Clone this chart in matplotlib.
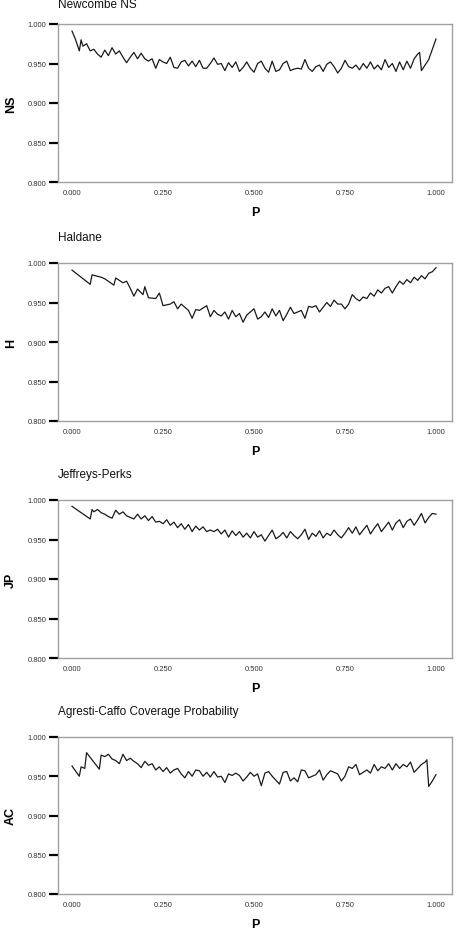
import matplotlib
matplotlib.use("Agg")
import matplotlib.pyplot as plt

plt.rcParams['font.family'] = ['Liberation Sans', 'DejaVu Sans']

# Newcombe NS
ns_p = [0.00, 0.01, 0.02, 0.025, 0.03, 0.04, 0.05, 0.06, 0.07, 0.08, 0.09, 0.10,
        0.11, 0.12, 0.13, 0.14, 0.15, 0.16, 0.17, 0.18, 0.19, 0.20, 0.21, 0.22,
        0.23, 0.24, 0.25, 0.26, 0.27, 0.28, 0.29, 0.30, 0.31, 0.32, 0.33, 0.34,
        0.35, 0.36, 0.37, 0.38, 0.39, 0.40, 0.41, 0.42, 0.43, 0.44, 0.45, 0.46,
        0.47, 0.48, 0.49, 0.50, 0.51, 0.52, 0.53, 0.54, 0.55, 0.56, 0.57, 0.58,
        0.59, 0.60, 0.61, 0.62, 0.63, 0.64, 0.65, 0.66, 0.67, 0.68, 0.69, 0.70,
        0.71, 0.72, 0.73, 0.74, 0.75, 0.76, 0.77, 0.78, 0.79, 0.80, 0.81, 0.82,
        0.83, 0.84, 0.85, 0.86, 0.87, 0.88, 0.89, 0.90, 0.91, 0.92, 0.93, 0.94,
        0.95, 0.955, 0.96, 0.97, 0.98, 0.99, 1.00]
ns_v = [0.991, 0.980, 0.966, 0.980, 0.972, 0.975, 0.966, 0.968, 0.962, 0.958, 0.967, 0.960,
        0.970, 0.962, 0.966, 0.958, 0.951, 0.958, 0.964, 0.956, 0.963, 0.956, 0.953, 0.956,
        0.944, 0.955, 0.952, 0.950, 0.958, 0.945, 0.944, 0.952, 0.954, 0.947, 0.953, 0.946,
        0.954, 0.944, 0.944, 0.950, 0.957, 0.949, 0.950, 0.941, 0.951, 0.945, 0.952, 0.940,
        0.945, 0.952, 0.944, 0.939, 0.950, 0.953, 0.944, 0.939, 0.953, 0.940, 0.942, 0.950,
        0.953, 0.941, 0.943, 0.944, 0.943, 0.955, 0.944, 0.940, 0.946, 0.948, 0.940, 0.949,
        0.952, 0.946, 0.938, 0.944, 0.954, 0.946, 0.944, 0.948, 0.942, 0.950, 0.944, 0.952,
        0.943, 0.948, 0.942, 0.955, 0.945, 0.950, 0.940, 0.952, 0.942, 0.953, 0.944, 0.956,
        0.962, 0.964, 0.941, 0.948, 0.955, 0.968, 0.981]

# Haldane
h_p = [0.00, 0.05, 0.055, 0.08, 0.09, 0.115, 0.12, 0.14, 0.15, 0.16, 0.17, 0.18,
       0.195, 0.20, 0.21, 0.23, 0.24, 0.25, 0.27, 0.28, 0.29, 0.30, 0.32, 0.33,
       0.34, 0.35, 0.37, 0.38, 0.39, 0.40, 0.41, 0.42, 0.43, 0.44, 0.45, 0.46,
       0.47, 0.48, 0.50, 0.51, 0.52, 0.53, 0.54, 0.55, 0.56, 0.57, 0.58, 0.59,
       0.60, 0.61, 0.62, 0.63, 0.64, 0.65, 0.66, 0.67, 0.68, 0.69, 0.70, 0.71,
       0.72, 0.73, 0.74, 0.75, 0.76, 0.77, 0.78, 0.79, 0.80, 0.81, 0.82, 0.83,
       0.84, 0.85, 0.86, 0.87, 0.88, 0.89, 0.90, 0.91, 0.92, 0.93, 0.94, 0.95,
       0.96, 0.97, 0.98, 0.99, 1.00]
h_v = [0.991, 0.973, 0.985, 0.982, 0.980, 0.972, 0.981, 0.975, 0.977, 0.968, 0.958, 0.967,
       0.960, 0.970, 0.956, 0.955, 0.962, 0.946, 0.948, 0.951, 0.942, 0.948, 0.940, 0.930,
       0.941, 0.940, 0.946, 0.932, 0.940, 0.935, 0.933, 0.938, 0.929, 0.940, 0.932, 0.936,
       0.925, 0.934, 0.942, 0.929, 0.932, 0.938, 0.931, 0.942, 0.933, 0.940, 0.927, 0.935,
       0.944, 0.936, 0.938, 0.940, 0.930, 0.945, 0.944, 0.946, 0.938, 0.944, 0.950, 0.945,
       0.953, 0.948, 0.948, 0.942, 0.948, 0.960, 0.955, 0.952, 0.957, 0.955, 0.962, 0.958,
       0.966, 0.962, 0.968, 0.970, 0.962, 0.970, 0.977, 0.973, 0.979, 0.975, 0.982, 0.978,
       0.984, 0.980, 0.987, 0.989, 0.994]

# Jeffreys-Perks
jp_p = [0.00, 0.05, 0.055, 0.06, 0.07, 0.08, 0.09, 0.10, 0.11, 0.12, 0.13, 0.14,
        0.15, 0.16, 0.17, 0.18, 0.19, 0.20, 0.21, 0.22, 0.23, 0.24, 0.25, 0.26,
        0.27, 0.28, 0.29, 0.30, 0.31, 0.32, 0.33, 0.34, 0.35, 0.36, 0.37, 0.38,
        0.39, 0.40, 0.41, 0.42, 0.43, 0.44, 0.45, 0.46, 0.47, 0.48, 0.49, 0.50,
        0.51, 0.52, 0.53, 0.54, 0.55, 0.56, 0.57, 0.58, 0.59, 0.60, 0.61, 0.62,
        0.63, 0.64, 0.65, 0.66, 0.67, 0.68, 0.69, 0.70, 0.71, 0.72, 0.73, 0.74,
        0.75, 0.76, 0.77, 0.78, 0.79, 0.80, 0.81, 0.82, 0.83, 0.84, 0.85, 0.86,
        0.87, 0.88, 0.89, 0.90, 0.91, 0.92, 0.93, 0.94, 0.95, 0.96, 0.97, 0.98,
        0.99, 1.00]
jp_v = [0.992, 0.976, 0.988, 0.985, 0.988, 0.984, 0.982, 0.979, 0.977, 0.987, 0.982, 0.985,
        0.980, 0.978, 0.976, 0.982, 0.976, 0.980, 0.974, 0.979, 0.972, 0.973, 0.970, 0.975,
        0.968, 0.972, 0.965, 0.970, 0.963, 0.969, 0.960, 0.967, 0.962, 0.966, 0.960, 0.962,
        0.960, 0.963, 0.957, 0.962, 0.953, 0.961, 0.955, 0.960, 0.953, 0.958, 0.952, 0.960,
        0.953, 0.956, 0.948, 0.955, 0.962, 0.951, 0.954, 0.959, 0.952, 0.960, 0.955, 0.951,
        0.956, 0.963, 0.950, 0.958, 0.954, 0.961, 0.952, 0.958, 0.955, 0.962, 0.956, 0.952,
        0.958, 0.965, 0.958, 0.966, 0.956, 0.962, 0.968, 0.957, 0.964, 0.970, 0.960, 0.966,
        0.972, 0.962, 0.971, 0.975, 0.965, 0.973, 0.976, 0.968, 0.975, 0.983, 0.971, 0.978,
        0.983, 0.982]

# Agresti-Caffo
ac_p = [0.00, 0.02, 0.025, 0.035, 0.04, 0.075, 0.08, 0.09, 0.10, 0.11, 0.12, 0.13,
        0.14, 0.15, 0.16, 0.17, 0.18, 0.19, 0.20, 0.21, 0.22, 0.23, 0.24, 0.25,
        0.26, 0.27, 0.28, 0.29, 0.30, 0.31, 0.32, 0.33, 0.34, 0.35, 0.36, 0.37,
        0.38, 0.39, 0.40, 0.41, 0.42, 0.43, 0.44, 0.45, 0.46, 0.47, 0.48, 0.49,
        0.50, 0.51, 0.52, 0.53, 0.54, 0.55, 0.56, 0.57, 0.58, 0.59, 0.60, 0.61,
        0.62, 0.63, 0.64, 0.65, 0.66, 0.67, 0.68, 0.69, 0.70, 0.71, 0.72, 0.73,
        0.74, 0.75, 0.76, 0.77, 0.78, 0.79, 0.80, 0.81, 0.82, 0.83, 0.84, 0.85,
        0.86, 0.87, 0.88, 0.89, 0.90, 0.91, 0.92, 0.93, 0.94, 0.95, 0.96, 0.97,
        0.975, 0.98, 0.99, 1.00]
ac_v = [0.963, 0.950, 0.962, 0.960, 0.980, 0.959, 0.977, 0.975, 0.978, 0.972, 0.970, 0.966,
        0.978, 0.970, 0.973, 0.969, 0.966, 0.961, 0.969, 0.964, 0.966, 0.958, 0.962, 0.956,
        0.961, 0.954, 0.958, 0.960, 0.953, 0.948, 0.956, 0.950, 0.958, 0.957, 0.950, 0.955,
        0.949, 0.956, 0.949, 0.950, 0.942, 0.953, 0.951, 0.954, 0.951, 0.944, 0.949, 0.955,
        0.950, 0.953, 0.938, 0.954, 0.956, 0.950, 0.945, 0.940, 0.955, 0.956, 0.944, 0.948,
        0.943, 0.958, 0.957, 0.948, 0.950, 0.952, 0.958, 0.945, 0.952, 0.957, 0.955, 0.953,
        0.944, 0.950, 0.962, 0.960, 0.965, 0.952, 0.955, 0.958, 0.954, 0.965, 0.957, 0.962,
        0.960, 0.966, 0.958, 0.966, 0.960, 0.965, 0.962, 0.968, 0.955, 0.960, 0.965, 0.968,
        0.971, 0.937, 0.944, 0.952]

titles = ["Newcombe NS", "Haldane", "Jeffreys-Perks", "Agresti-Caffo Coverage Probability"]
ylabels = ["NS", "H", "JP", "AC"]
xs = [ns_p, h_p, jp_p, ac_p]
ys = [ns_v, h_v, jp_v, ac_v]

yticks = [0.800, 0.850, 0.900, 0.950, 1.000]
xticks = [0.000, 0.250, 0.500, 0.750, 1.000]

W, H = 465, 945
fig = plt.figure(figsize=(W / 100, H / 100), dpi=100)

# axes top/bottom in pixels
boxes = [(25, 183), (264, 422), (501, 659), (738, 895)]
title_gap = [20, 26, 26, 26]  # first title sits right at the top edge
left, right = 58, 452

for i in range(4):
    top, bot = boxes[i]
    ax = fig.add_axes([left / W, 1 - bot / H, (right - left) / W, (bot - top) / H])
    ax.plot(xs[i], ys[i], color='#1a1a1a', lw=0.9)
    ax.set_xlim(-0.0385, 1.044)
    ax.set_ylim(0.8, 1.0)
    ax.set_yticks(yticks)
    ax.set_yticklabels(["%.3f" % t for t in yticks])
    ax.set_xticks(xticks)
    ax.set_xticklabels(["%.3f" % t for t in xticks])
    ax.tick_params(axis='y', length=6.5, width=1.6, color='black', pad=2,
                   labelsize=5.5, labelcolor='#333333')
    ax.tick_params(axis='x', length=0, pad=5, labelsize=5.5, labelcolor='#333333')
    for s in ax.spines.values():
        s.set_color('#a0a0a0')
        s.set_linewidth(1.0)
    ax.set_ylabel(ylabels[i], fontsize=9, fontweight='bold')
    ax.yaxis.set_label_coords(-41 / (right - left), 0.5)
    ax.set_xlabel("P", fontsize=9, fontweight='bold')
    ax.xaxis.set_label_coords(0.5, -30 / (bot - top))
    ax.xaxis.label.set_va('center')
    ax.text(0, 1 + title_gap[i] / (bot - top), titles[i], transform=ax.transAxes,
            fontsize=8.5, va='center', ha='left', color='#111111')

fig.savefig("out.png", dpi=100)
